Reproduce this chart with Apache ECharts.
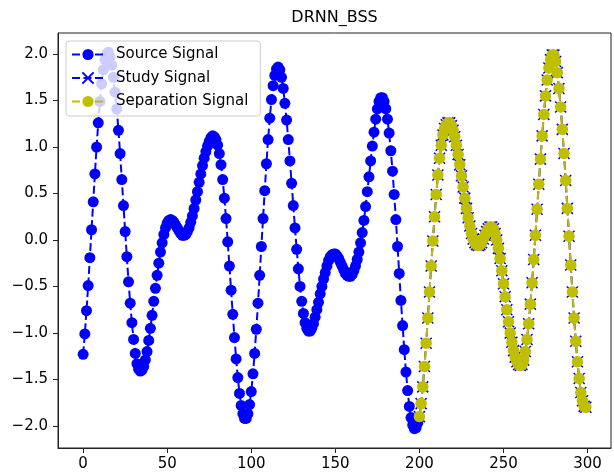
<!DOCTYPE html>
<html><head><meta charset="utf-8">
<script src="https://cdn.jsdelivr.net/npm/echarts@6/dist/echarts.min.js"></script>
<style>html,body{margin:0;padding:0;background:#fff}#c{width:614px;height:474px}</style>
</head><body><div id="c"></div>
<script>
const chartTitle = 'DRNN_BSS';
const seriesNames = ['Source Signal', 'Study Signal', 'Separation Signal'];
const sourceStart = 0;
const sourceValues = [
-1.23,-1.01,-0.76,-0.49,-0.19,0.11,0.41,0.71,1.00,1.26,
1.49,1.68,1.83,1.94,2.00,2.02,1.97,1.88,1.75,1.59,
1.41,1.18,0.93,0.65,0.37,0.09,-0.18,-0.45,-0.68,-0.89,
-1.07,-1.22,-1.33,-1.39,-1.41,-1.40,-1.36,-1.29,-1.20,-1.08,
-0.95,-0.81,-0.66,-0.52,-0.38,-0.25,-0.13,-0.03,0.06,0.13,
0.18,0.21,0.22,0.21,0.19,0.16,0.13,0.10,0.07,0.05,
0.05,0.06,0.09,0.13,0.19,0.26,0.34,0.43,0.52,0.62,
0.71,0.80,0.88,0.95,1.01,1.06,1.10,1.12,1.11,1.08,
1.02,0.93,0.81,0.65,0.45,0.23,-0.02,-0.28,-0.54,-0.80,
-1.05,-1.28,-1.48,-1.65,-1.78,-1.87,-1.92,-1.92,-1.87,-1.77,
-1.63,-1.44,-1.22,-0.96,-0.68,-0.38,-0.07,0.23,0.53,0.82,
1.08,1.31,1.51,1.66,1.77,1.84,1.86,1.83,1.75,1.63,
1.47,1.29,1.08,0.85,0.61,0.37,0.13,-0.10,-0.31,-0.50,
-0.66,-0.79,-0.89,-0.95,-0.98,-0.98,-0.95,-0.90,-0.83,-0.75,
-0.67,-0.58,-0.50,-0.42,-0.35,-0.28,-0.22,-0.18,-0.16,-0.15,
-0.15,-0.17,-0.20,-0.24,-0.28,-0.32,-0.36,-0.38,-0.39,-0.39,
-0.37,-0.33,-0.28,-0.21,-0.13,-0.03,0.08,0.21,0.36,0.52,
0.68,0.85,1.01,1.16,1.30,1.41,1.49,1.53,1.53,1.49,
1.41,1.30,1.15,0.96,0.74,0.49,0.22,-0.07,-0.36,-0.65,
-0.92,-1.18,-1.42,-1.62,-1.79,-1.91,-1.99,-2.03,-2.02,-1.97
];
const studyStart = 200;
const studyValues = [
-1.90,-1.76,-1.58,-1.36,-1.11,-0.84,-0.56,-0.28,-0.01,0.25,
0.49,0.70,0.88,1.02,1.13,1.20,1.24,1.26,1.26,1.23,
1.18,1.11,1.02,0.92,0.81,0.69,0.57,0.45,0.34,0.24,
0.15,0.07,0.01,-0.03,-0.05,-0.06,-0.05,-0.03,0.01,0.05,
0.09,0.12,0.14,0.14,0.12,0.07,0.00,-0.09,-0.20,-0.33,
-0.47,-0.61,-0.75,-0.88,-1.00,-1.10,-1.19,-1.26,-1.31,-1.34,
-1.35,-1.34,-1.29,-1.20,-1.07,-0.90,-0.69,-0.46,-0.21,0.05,
0.33,0.60,0.87,1.12,1.35,1.55,1.72,1.85,1.94,1.99,
1.99,1.92,1.80,1.63,1.43,1.19,0.93,0.64,0.34,0.04,
-0.27,-0.56,-0.84,-1.09,-1.31,-1.49,-1.64,-1.73,-1.79,-1.80
];
const separationStart = 200;
const separationValues = [
-1.90,-1.76,-1.58,-1.36,-1.11,-0.84,-0.56,-0.28,-0.01,0.25,
0.49,0.70,0.88,1.02,1.13,1.20,1.24,1.26,1.26,1.23,
1.18,1.11,1.02,0.92,0.81,0.69,0.57,0.45,0.34,0.24,
0.15,0.07,0.01,-0.03,-0.05,-0.06,-0.05,-0.03,0.01,0.05,
0.09,0.12,0.14,0.14,0.12,0.07,0.00,-0.09,-0.20,-0.33,
-0.47,-0.61,-0.75,-0.88,-1.00,-1.10,-1.19,-1.26,-1.31,-1.34,
-1.35,-1.34,-1.29,-1.20,-1.07,-0.90,-0.69,-0.46,-0.21,0.05,
0.33,0.60,0.87,1.12,1.35,1.55,1.72,1.85,1.94,1.99,
1.99,1.92,1.80,1.63,1.43,1.19,0.93,0.64,0.34,0.04,
-0.27,-0.56,-0.84,-1.09,-1.31,-1.49,-1.64,-1.73,-1.79,-1.80
];
const xTickValues = [0, 50, 100, 150, 200, 250, 300];
const yTickValues = [-2, -1.5, -1, -0.5, 0, 0.5, 1, 1.5, 2];

const FONT = 'DejaVu Sans';
const toPairs = (start, arr) => arr.map((v, i) => [start + i, v]);
const minusFmt = (v, d) => (v < 0 ? '\u2212' : '') + Math.abs(v).toFixed(d);

const chart = echarts.init(document.getElementById('c'), null, {renderer: 'canvas'});
chart.setOption({
  animation: false,
  backgroundColor: '#ffffff',
  graphic: [{
    type: 'text', x: 334.5, y: 18, z: 10,
    style: {text: chartTitle, font: '16px "DejaVu Sans"', fill: '#000', align: 'center', verticalAlign: 'middle'}
  }],
  grid: {left: 58, right: 3, top: 33, bottom: 26, show: true, borderColor: '#222', borderWidth: 1, backgroundColor: 'transparent'},
  legend: {
    data: seriesNames, orient: 'vertical', left: 66, top: 41,
    itemWidth: 32, itemHeight: 14, itemGap: 8.5, padding: [6, 12, 7, 5],
    backgroundColor: 'rgba(255,255,255,0.8)', borderColor: '#cccccc', borderWidth: 1, borderRadius: 3,
    textStyle: {fontFamily: FONT, fontSize: 15, color: '#000', padding: [0, 0, 0, 7]}
  },
  xAxis: {
    type: 'value', min: -14.95, max: 313.95,
    axisLine: {show: true, onZero: false, lineStyle: {color: '#222', width: 1}},
    axisTick: {show: true, length: 5, lineStyle: {color: '#222'}, customValues: xTickValues},
    axisLabel: {customValues: xTickValues, margin: 9, fontFamily: FONT, fontSize: 15, color: '#000', formatter: v => minusFmt(v, 0)},
    splitLine: {show: false}
  },
  yAxis: {
    type: 'value', min: -2.2375, max: 2.2265,
    axisLine: {show: true, onZero: false, lineStyle: {color: '#222', width: 1}},
    axisTick: {show: true, length: 5, lineStyle: {color: '#222'}, customValues: yTickValues},
    axisLabel: {customValues: yTickValues, margin: 10, fontFamily: FONT, fontSize: 15, color: '#000', formatter: v => minusFmt(v, 1)},
    splitLine: {show: false}
  },
  series: [
    {
      name: seriesNames[0], type: 'line', data: toPairs(sourceStart, sourceValues),
      symbol: 'circle', symbolSize: 11, showSymbol: true, showAllSymbol: true,
      itemStyle: {color: '#0000ff'},
      lineStyle: {color: '#0000ff', width: 2, type: [8, 3.5]}, z: 2
    },
    {
      name: seriesNames[1], type: 'line', data: toPairs(studyStart, studyValues),
      symbol: 'path://M0,0L10,10M10,0L0,10', symbolSize: 11, showSymbol: true, showAllSymbol: true,
      itemStyle: {color: '#0000ff', borderColor: '#0000ff', borderWidth: 1.5},
      lineStyle: {color: '#0000ff', width: 2, type: [8, 3.5]}, z: 3
    },
    {
      name: seriesNames[2], type: 'line', data: toPairs(separationStart, separationValues),
      symbol: 'circle', symbolSize: 11.5, showSymbol: true, showAllSymbol: true,
      itemStyle: {color: '#bfbf00'},
      lineStyle: {color: '#bfbf00', width: 2, type: [8, 3.5]}, z: 4
    }
  ]
});
</script>
</body></html>
